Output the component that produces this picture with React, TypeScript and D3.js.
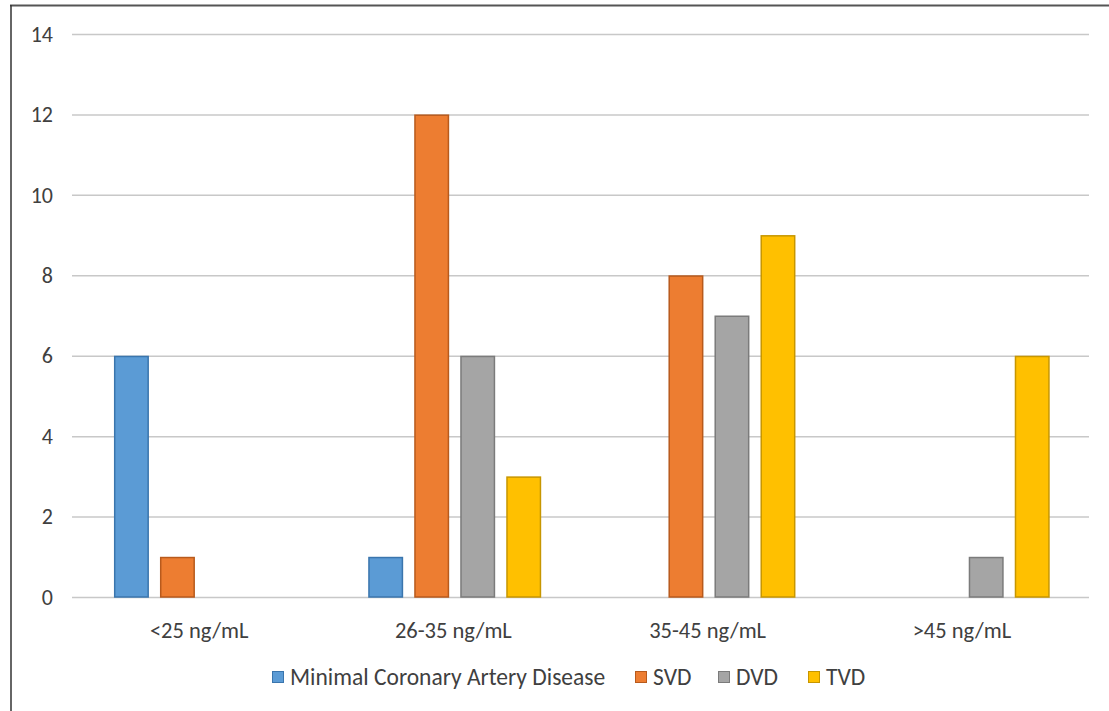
import React, { useEffect, useRef } from 'react';
import * as d3 from 'd3';

const categories = ['<25 ng/mL', '26-35 ng/mL', '35-45 ng/mL', '>45 ng/mL'];
const seriesNames = ['Minimal Coronary Artery Disease', 'SVD', 'DVD', 'TVD'];
const minimalCAD = [6, 1, 0, 0];
const svd = [1, 12, 8, 0];
const dvd = [0, 6, 7, 1];
const tvd = [0, 3, 9, 6];
const yTicks = [0, 2, 4, 6, 8, 10, 12, 14];

const fills = ['#5B9BD5', '#ED7D31', '#A5A5A5', '#FFC000'];
const strokes = ['#3A75AD', '#B85A1C', '#7B7B7B', '#C79600'];

const App: React.FC = () => {
  const svgRef = useRef<SVGSVGElement>(null);

  useEffect(() => {
    if (!svgRef.current) return;
    const svg = d3.select(svgRef.current);
    svg.selectAll('*').remove();

    const width = 1109;
    const height = 711;
    const margin = { top: 34, right: 20, bottom: 114, left: 72 };
    const plotRight = 1089;
    const font = "Carlito, 'Open Sans', 'Liberation Sans', sans-serif";

    const series = [minimalCAD, svd, dvd, tvd];

    const x0 = d3.scaleBand<string>()
      .domain(categories)
      .range([margin.left, plotRight])
      .paddingInner(0)
      .paddingOuter(0);

    const bw = x0.bandwidth();
    const x1 = d3.scaleBand<string>()
      .domain(seriesNames)
      .range([bw * 0.165, bw * 0.165 + 173])
      .paddingInner(0.24)
      .paddingOuter(0);

    const y = d3.scaleLinear()
      .domain([0, 14])
      .range([height - margin.bottom, margin.top]);

    svg.append('rect')
      .attr('width', width)
      .attr('height', height)
      .attr('fill', '#fff');

    // frame
    svg.append('line')
      .attr('x1', 10).attr('x2', width)
      .attr('y1', 5.5).attr('y2', 5.5)
      .attr('stroke', '#555').attr('stroke-width', 2);
    svg.append('line')
      .attr('x1', 11).attr('x2', 11)
      .attr('y1', 5).attr('y2', height)
      .attr('stroke', '#333').attr('stroke-width', 1.5);

    // gridlines
    svg.append('g')
      .selectAll('line')
      .data(yTicks)
      .join('line')
      .attr('x1', margin.left)
      .attr('x2', plotRight)
      .attr('y1', d => y(d) + 0.5)
      .attr('y2', d => y(d) + 0.5)
      .attr('stroke', '#C8C8C8')
      .attr('stroke-width', 1.5);

    // y tick labels
    svg.append('g')
      .selectAll('text')
      .data(yTicks)
      .join('text')
      .attr('x', 53)
      .attr('y', d => y(d))
      .attr('dy', '0.35em')
      .attr('text-anchor', 'end')
      .style('font-family', font)
      .style('font-size', '22px')
      .style('fill', '#404040')
      .text(d => String(d));

    // bars
    categories.forEach((cat, ci) => {
      const g = svg.append('g').attr('transform', `translate(${x0(cat)},0)`);
      seriesNames.forEach((name, si) => {
        const v = series[si][ci];
        if (!v) return;
        g.append('rect')
          .attr('x', (x1(name) as number) + 0.75)
          .attr('y', y(v) + 0.75)
          .attr('width', x1.bandwidth() - 1.5)
          .attr('height', y(0) - y(v) - 0.75)
          .attr('fill', fills[si])
          .attr('stroke', strokes[si])
          .attr('stroke-width', 1.5);
      });
    });

    // x labels
    svg.append('g')
      .selectAll('text')
      .data(categories)
      .join('text')
      .attr('x', d => (x0(d) as number) + bw / 2)
      .attr('y', 638)
      .attr('text-anchor', 'middle')
      .style('font-family', font)
      .style('font-size', '22.5px')
      .style('fill', '#404040')
      .text(d => d);

    // legend
    const legendX = [272, 635, 718, 808];
    const legend = svg.append('g');
    seriesNames.forEach((name, i) => {
      legend.append('rect')
        .attr('x', legendX[i] + 0.5)
        .attr('y', 671.5)
        .attr('width', 11)
        .attr('height', 11)
        .attr('fill', fills[i])
        .attr('stroke', strokes[i])
        .attr('stroke-width', 1);
      legend.append('text')
        .attr('x', legendX[i] + 18)
        .attr('y', 684.5)
        .style('font-family', font)
        .style('font-size', '23.5px')
        .style('fill', '#404040')
        .text(name);
    });
  }, []);

  return (
    <div style={{ position: 'absolute', left: 0, top: 0 }}>
      <svg ref={svgRef} width={1109} height={711} style={{ display: 'block' }} />
    </div>
  );
};

export default App;
